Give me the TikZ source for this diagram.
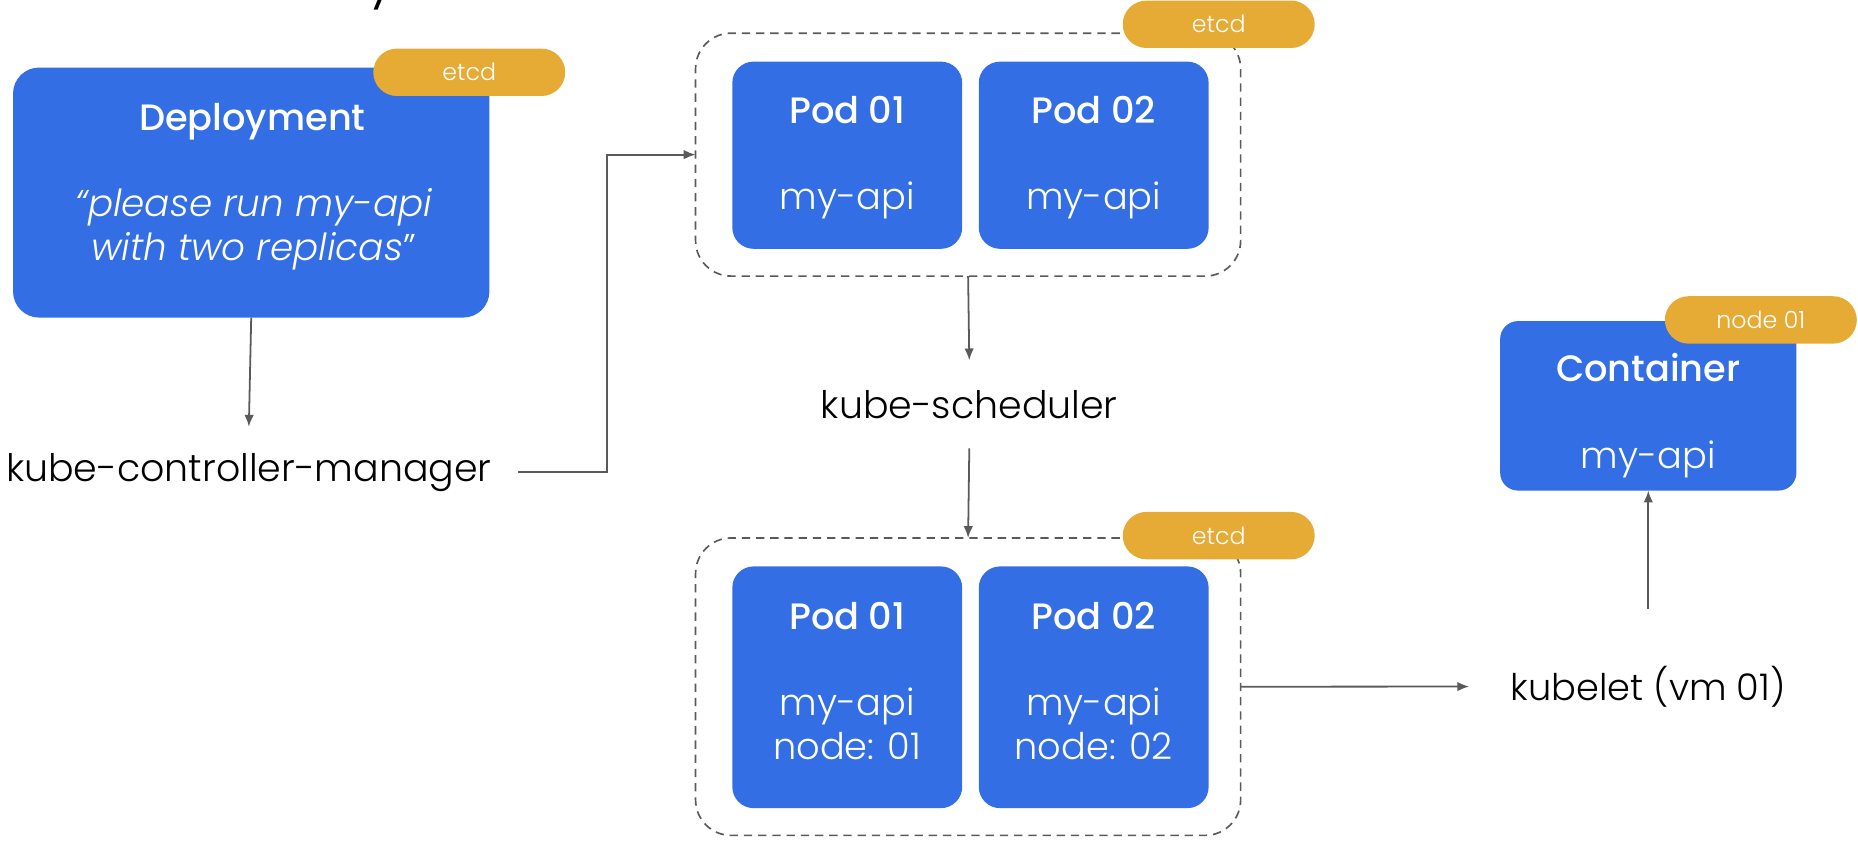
\documentclass[tikz,border=0pt]{standalone}
\usepackage{fontspec}
\setmainfont{Poppins}[UprightFont=* Light, BoldFont=* Medium, ItalicFont=* Light Italic, BoldItalicFont=* Medium Italic]
\usetikzlibrary{arrows.meta}
\definecolor{kblue}{RGB}{51,110,228}
\definecolor{kgold}{RGB}{230,171,53}
\definecolor{kline}{RGB}{90,90,90}
\newcommand{\fs}[1]{\fontsize{#1}{#1}\selectfont}

\begin{document}
\begin{tikzpicture}[x=1pt,y=-1pt,
  card/.style={fill=kblue, draw=none, rounded corners=18pt, inner sep=0pt, outer sep=0pt},
  pill/.style={fill=kgold, draw=none, rounded corners=20pt, minimum width=162pt, minimum height=40pt,
               inner sep=0pt, text=white, font=\fs{20}},
  group/.style={draw=kline, line width=1.4pt, dash pattern=on 7pt off 5pt, rounded corners=30pt,
                inner sep=0pt, outer sep=0pt},
  title/.style={anchor=base, text=white, inner sep=0pt, font=\bfseries\fs{31}},
  body/.style={anchor=base, text=white, inner sep=0pt, font=\fs{31}},
  lbl/.style={anchor=base, text=black, inner sep=0pt, font=\fs{32}},
  arr/.style={draw=kline, line width=1.5pt, -{Latex[length=10pt,width=8pt]}}
]
\useasboundingbox (0,0) rectangle (1568,711);

% tail of the heading above the frame
\node[anchor=base, inner sep=0pt, font=\fs{48}] (head) at (322,-4) {y};

% ---- Deployment object ----
\node[card, rounded corners=22pt, minimum width=402pt, minimum height=211pt] (dep) at (212,162.5) {};
\node[pill] (depetcd) at (396,61) {etcd};
\node[title] (deptitle) at (213,110) {Deployment};
\node[body, font=\itshape\fs{31.5}] (depq1) at (214,183) {“please run my-api};
\node[body, font=\itshape\fs{31.5}] (depq2) at (214,220) {with two replicas{\upshape ”}};

\node[lbl] (kcm) at (210,406) {kube-controller-manager};

% ---- pods created, not yet scheduled ----
\node[group, minimum width=460pt, minimum height=205pt] (g1) at (817,130.5) {};
\node[pill] (g1etcd) at (1028.5,20.5) {etcd};
\node[card, minimum width=194pt, minimum height=158pt] (p1a) at (715,131) {};
\node[card, minimum width=194pt, minimum height=158pt] (p2a) at (923,131) {};
\node[title] (p1at) at (715,104) {Pod 01};
\node[body]  (p1ab) at (715,177) {my-api};
\node[title] (p2at) at (923,104) {Pod 02};
\node[body]  (p2ab) at (923,177) {my-api};

\node[lbl] (ks) at (818,353) {kube-scheduler};

% ---- pods bound to nodes ----
\node[group, minimum width=460pt, minimum height=251pt] (g2) at (817,579.5) {};
\node[pill] (g2etcd) at (1028.5,452) {etcd};
\node[card, minimum width=194pt, minimum height=204pt] (p1b) at (715,580) {};
\node[card, minimum width=194pt, minimum height=204pt] (p2b) at (923,580) {};
\node[title] (p1bt) at (715,531) {Pod 01};
\node[body]  (p1bb) at (715,604) {my-api};
\node[body]  (p1bn) at (715,641) {node: 01};
\node[title] (p2bt) at (923,531) {Pod 02};
\node[body]  (p2bb) at (923,604) {my-api};
\node[body]  (p2bn) at (923,641) {node: 02};

\node[lbl, font=\fs{31}] (kl) at (1391,591) {kubelet (vm 01)};

% ---- running container ----
\node[card, rounded corners=15pt, minimum width=250pt, minimum height=143pt] (ctr) at (1391,342.5) {};
\node[pill] (ctrnode) at (1486,270) {node 01};
\node[title] (ctrt) at (1391,322) {Container};
\node[body]  (ctrb) at (1391,395) {my-api};

% ---- connectors ----
\draw[arr] (dep.south) -- ([yshift=22pt]kcm.north);
\draw[arr] ([xshift=22pt]kcm.east) -- ++(75,0) |- (g1.west);
\draw[arr] (g1.south) -- ([yshift=25pt]ks.north);
\draw[arr] ([yshift=-25pt]ks.south) -- (g2.north);
\draw[arr] (g2.east) -- ([xshift=-35pt]kl.west);
\draw[arr] ([yshift=48pt]kl.north) -- (ctr.south);
\end{tikzpicture}
\end{document}
